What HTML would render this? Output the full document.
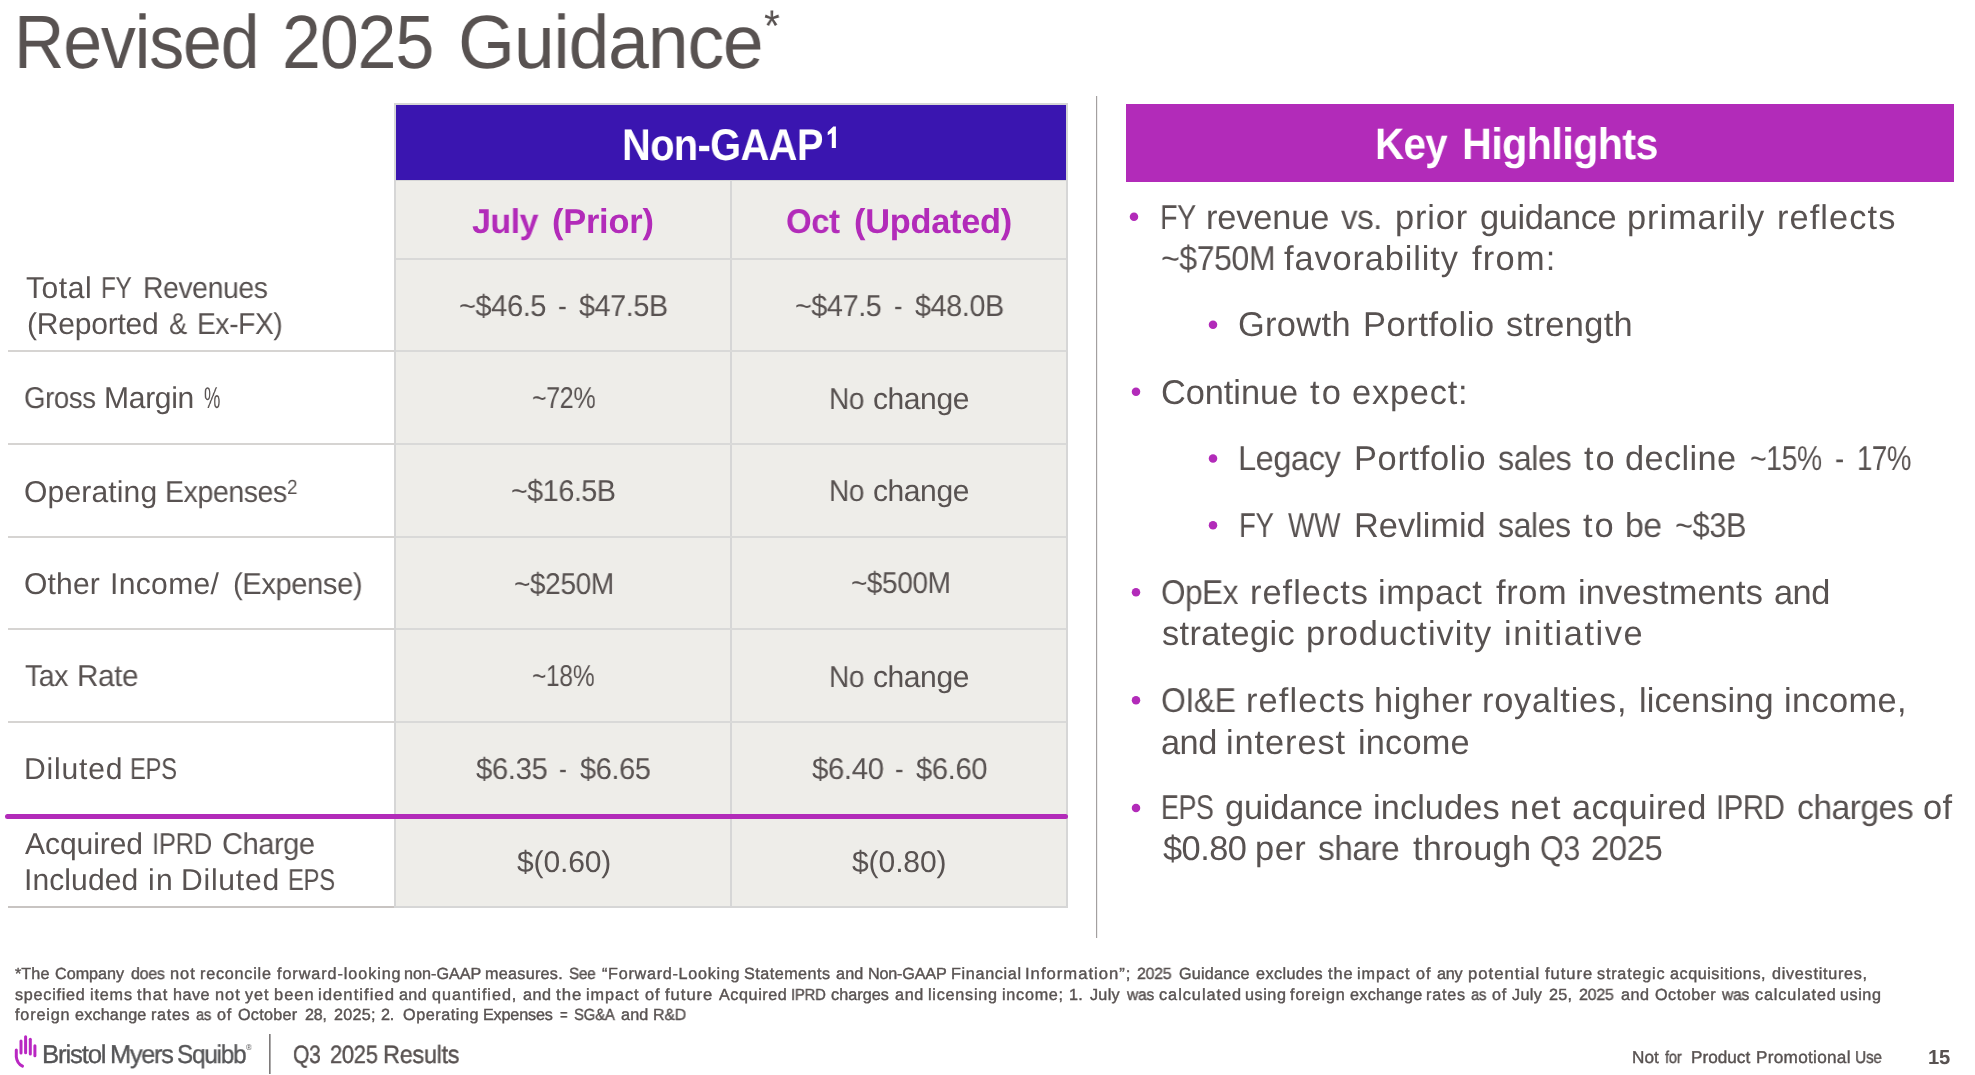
<!DOCTYPE html>
<html>
<head>
<meta charset="utf-8">
<title>Revised 2025 Guidance</title>
<style>
html,body{margin:0;padding:0;background:#fff;}
body{width:1975px;height:1075px;position:relative;overflow:hidden;font-family:"Liberation Sans",sans-serif;}
.t{position:absolute;white-space:nowrap;line-height:1;transform-origin:0 0;will-change:transform;text-rendering:geometricPrecision;}
.r{position:absolute;}
.stk2{-webkit-text-stroke:0.4px currentColor;}
.stk3{-webkit-text-stroke:0.35px currentColor;}
.hl{position:absolute;height:2px;background:#d9d9d8;}
.ll{position:absolute;height:2px;background:#d6d4d2;left:8px;width:386px;}
.dot{position:absolute;width:8.4px;height:8.4px;border-radius:50%;background:#b22bb9;}
</style>
</head>
<body>
<!-- table frame -->
<div class="r" style="left:394px;top:103px;width:674px;height:805px;background:#d6d6d6;"></div>
<div class="r" style="left:396px;top:105px;width:670px;height:801px;background:#eeede9;"></div>
<div class="r" style="left:396px;top:105px;width:670px;height:75px;background:#3a15b0;"></div>
<div class="r" style="left:396px;top:180px;width:670px;height:1px;background:#d6d6d6;"></div>
<!-- column divider -->
<div class="r" style="left:730px;top:181px;width:2px;height:725px;background:#d6d6d6;"></div>
<!-- row separators in table -->
<div class="hl" style="left:396px;width:670px;top:258px;"></div>
<div class="hl" style="left:396px;width:670px;top:350px;"></div>
<div class="hl" style="left:396px;width:670px;top:443px;"></div>
<div class="hl" style="left:396px;width:670px;top:536px;"></div>
<div class="hl" style="left:396px;width:670px;top:628px;"></div>
<div class="hl" style="left:396px;width:670px;top:721px;"></div>
<!-- left column separators -->
<div class="ll" style="top:350px;"></div>
<div class="ll" style="top:443px;"></div>
<div class="ll" style="top:536px;"></div>
<div class="ll" style="top:628px;"></div>
<div class="ll" style="top:721px;"></div>
<div class="ll" style="top:906px;height:1.6px;background:#c8c4c2;"></div>
<!-- purple rule -->
<div class="r" style="left:5px;top:814px;width:1063px;height:5px;border-radius:2.5px;background:#b22bb9;"></div>
<!-- vertical page divider -->
<div class="r" style="left:1096px;top:96px;width:1px;height:842px;background:#a3a0a0;"></div><div class="r" style="left:1097px;top:96px;width:1px;height:842px;background:#efeeee;"></div>
<svg class="r" style="left:820px;top:120px;" width="24" height="34" viewBox="820 120 24 34"><polygon fill="#fff" points="831.8,148 835.9,148 835.9,126.6 833.3,126.6 827.7,131.9 827.7,135.2 831.8,133.0"/></svg>
<!-- key highlights box -->
<div class="r" style="left:1126px;top:104px;width:828px;height:78px;background:#b22bb9;"></div>
<!-- bullets -->
<svg class="r" style="left:1120px;top:200px;" width="110" height="625" viewBox="1120 200 110 625"><g fill="#b22bb9"><circle cx="1134" cy="216.7" r="4.25"/><circle cx="1213" cy="324.65" r="4.25"/><circle cx="1136" cy="391.65" r="4.25"/><circle cx="1213" cy="458.4" r="4.25"/><circle cx="1213" cy="525.3" r="4.25"/><circle cx="1136" cy="592.2" r="4.25"/><circle cx="1136" cy="700.3" r="4.25"/><circle cx="1136" cy="808.1" r="4.25"/></g></svg>
<!-- footer -->
<svg class="r" style="left:0;top:1025px;" width="60" height="50" viewBox="0 1025 60 50">
  <g fill="none" stroke="#b927c2" stroke-width="3" stroke-linecap="round">
    <path d="M16.3 1050.1 L16.3 1056.8 Q17 1063.5 22.5 1066.1"/>
    <path d="M21 1041 L21 1053.1"/>
    <path d="M25.6 1036.7 L25.6 1052.7"/>
    <path d="M30.3 1039.3 L30.3 1054"/>
    <path d="M34.9 1045.8 L34.9 1055.7"/>
  </g>
</svg>
<div class="r" style="left:269px;top:1034px;width:1px;height:39.5px;background:#7e7a7a;"></div><div class="r" style="left:270px;top:1034px;width:1px;height:39.5px;background:#acaaaa;"></div>
<div class="t" style="left:14.47px;top:6.00px;font-size:75.59px;color:#585251;letter-spacing:-1.134px;transform:scaleX(0.9219);">Revised</div>
<div class="t" style="left:282.33px;top:6.00px;font-size:75.59px;color:#585251;letter-spacing:-1.134px;transform:scaleX(0.9238);">2025</div>
<div class="t" style="left:457.89px;top:6.00px;font-size:75.59px;color:#585251;letter-spacing:-1.134px;transform:scaleX(0.9685);">Guidance</div>
<div class="t" style="left:621.81px;top:124.00px;font-size:44.38px;color:#fff;font-weight:700;letter-spacing:-0.666px;transform:scaleX(0.8969);">Non-GAAP</div>
<div class="t" style="left:472.20px;top:205.00px;font-size:34.36px;color:#B22BB9;font-weight:700;letter-spacing:-0.515px;transform:scaleX(0.9911);">July</div>
<div class="t" style="left:551.50px;top:205.00px;font-size:34.36px;color:#B22BB9;font-weight:700;letter-spacing:-0.206px;">(Prior)</div>
<div class="t" style="left:786.04px;top:205.00px;font-size:34.36px;color:#B22BB9;font-weight:700;letter-spacing:-0.515px;transform:scaleX(0.9605);">Oct</div>
<div class="t" style="left:853.50px;top:205.00px;font-size:34.36px;color:#B22BB9;font-weight:700;letter-spacing:-0.272px;">(Updated)</div>
<div class="t" style="left:26.30px;top:274.00px;font-size:30.07px;color:#585251;letter-spacing:0.520px;">Total</div>
<div class="t" style="left:101.38px;top:274.00px;font-size:30.07px;color:#585251;letter-spacing:-0.451px;transform:scaleX(0.8075);">FY</div>
<div class="t" style="left:142.91px;top:274.00px;font-size:30.07px;color:#585251;letter-spacing:-0.451px;transform:scaleX(0.9444);">Revenues</div>
<div class="t" style="left:27.00px;top:310.00px;font-size:30.07px;color:#585251;letter-spacing:-0.245px;">(Reported</div>
<div class="t" style="left:168.59px;top:310.00px;font-size:30.07px;color:#585251;transform:scaleX(0.9105);">&amp;</div>
<div class="t" style="left:197.42px;top:310.00px;font-size:30.07px;color:#585251;letter-spacing:-0.451px;transform:scaleX(0.9393);">Ex-FX)</div>
<div class="t" style="left:24.08px;top:384.00px;font-size:30.07px;color:#585251;letter-spacing:-0.451px;transform:scaleX(0.9196);">Gross</div>
<div class="t" style="left:104.10px;top:384.00px;font-size:30.07px;color:#585251;letter-spacing:-0.314px;">Margin</div>
<div class="t" style="left:204.29px;top:384.00px;font-size:30.07px;color:#585251;transform:scaleX(0.6120);">%</div>
<div class="t" style="left:24.00px;top:478.00px;font-size:30.07px;color:#585251;letter-spacing:0.137px;">Operating</div>
<div class="t" style="left:165.30px;top:478.00px;font-size:30.07px;color:#585251;letter-spacing:-0.451px;transform:scaleX(0.9489);">Expenses</div>
<div class="t" style="left:24.00px;top:570.00px;font-size:30.07px;color:#585251;letter-spacing:0.156px;">Other</div>
<div class="t" style="left:109.60px;top:570.00px;font-size:30.07px;color:#585251;letter-spacing:0.336px;">Income/</div>
<div class="t" style="left:232.73px;top:570.00px;font-size:30.07px;color:#585251;letter-spacing:-0.451px;transform:scaleX(0.9711);">(Expense)</div>
<div class="t" style="left:24.50px;top:662.00px;font-size:30.07px;color:#585251;letter-spacing:-0.451px;transform:scaleX(0.9466);">Tax</div>
<div class="t" style="left:77.22px;top:662.00px;font-size:30.07px;color:#585251;letter-spacing:-0.451px;transform:scaleX(0.9894);">Rate</div>
<div class="t" style="left:23.60px;top:755.00px;font-size:30.07px;color:#585251;letter-spacing:0.823px;">Diluted</div>
<div class="t" style="left:130.11px;top:755.00px;font-size:30.07px;color:#585251;letter-spacing:-0.451px;transform:scaleX(0.7936);">EPS</div>
<div class="t" style="left:24.50px;top:830.00px;font-size:30.07px;color:#585251;letter-spacing:-0.090px;">Acquired</div>
<div class="t" style="left:152.19px;top:830.00px;font-size:30.07px;color:#585251;letter-spacing:-0.451px;transform:scaleX(0.8560);">IPRD</div>
<div class="t" style="left:221.83px;top:830.00px;font-size:30.07px;color:#585251;letter-spacing:-0.451px;transform:scaleX(0.9670);">Charge</div>
<div class="t" style="left:24.30px;top:866.00px;font-size:30.07px;color:#585251;letter-spacing:0.080px;">Included</div>
<div class="t" style="left:147.90px;top:866.00px;font-size:30.07px;color:#585251;letter-spacing:1.321px;">in</div>
<div class="t" style="left:180.70px;top:866.00px;font-size:30.07px;color:#585251;letter-spacing:0.757px;">Diluted</div>
<div class="t" style="left:287.71px;top:866.00px;font-size:30.07px;color:#585251;letter-spacing:-0.451px;transform:scaleX(0.7954);">EPS</div>
<div class="t" style="left:458.93px;top:292.00px;font-size:30.07px;color:#585251;letter-spacing:-0.451px;transform:scaleX(0.9661);">~$46.5</div>
<div class="t" style="left:558.02px;top:292.00px;font-size:30.07px;color:#585251;transform:scaleX(0.8750);">-</div>
<div class="t" style="left:578.70px;top:292.00px;font-size:30.07px;color:#585251;letter-spacing:-0.451px;transform:scaleX(0.9579);">$47.5B</div>
<div class="t" style="left:531.57px;top:384.00px;font-size:30.07px;color:#585251;letter-spacing:-0.451px;transform:scaleX(0.8333);">~72%</div>
<div class="t" style="left:511.05px;top:477.00px;font-size:30.07px;color:#585251;letter-spacing:-0.451px;transform:scaleX(0.9530);">~$16.5B</div>
<div class="t" style="left:514.07px;top:570.00px;font-size:30.07px;color:#585251;letter-spacing:-0.451px;transform:scaleX(0.9340);">~$250M</div>
<div class="t" style="left:532.38px;top:662.00px;font-size:30.07px;color:#585251;letter-spacing:-0.451px;transform:scaleX(0.8199);">~18%</div>
<div class="t" style="left:475.60px;top:755.00px;font-size:30.07px;color:#585251;letter-spacing:-0.451px;transform:scaleX(0.9779);">$6.35</div>
<div class="t" style="left:558.71px;top:755.00px;font-size:30.07px;color:#585251;transform:scaleX(0.7875);">-</div>
<div class="t" style="left:579.80px;top:755.00px;font-size:30.07px;color:#585251;letter-spacing:-0.451px;transform:scaleX(0.9655);">$6.65</div>
<div class="t" style="left:516.50px;top:848.00px;font-size:30.07px;color:#585251;letter-spacing:-0.157px;">$(0.60)</div>
<div class="t" style="left:795.44px;top:292.00px;font-size:30.07px;color:#585251;letter-spacing:-0.451px;transform:scaleX(0.9582);">~$47.5</div>
<div class="t" style="left:893.96px;top:292.00px;font-size:30.07px;color:#585251;transform:scaleX(0.8375);">-</div>
<div class="t" style="left:915.10px;top:292.00px;font-size:30.07px;color:#585251;letter-spacing:-0.451px;transform:scaleX(0.9590);">$48.0B</div>
<div class="t" style="left:829.43px;top:385.00px;font-size:30.07px;color:#585251;letter-spacing:-0.451px;transform:scaleX(0.9331);">No</div>
<div class="t" style="left:873.10px;top:385.00px;font-size:30.07px;color:#585251;letter-spacing:-0.451px;transform:scaleX(0.9952);">change</div>
<div class="t" style="left:829.43px;top:477.00px;font-size:30.07px;color:#585251;letter-spacing:-0.451px;transform:scaleX(0.9331);">No</div>
<div class="t" style="left:873.10px;top:477.00px;font-size:30.07px;color:#585251;letter-spacing:-0.451px;transform:scaleX(0.9952);">change</div>
<div class="t" style="left:829.43px;top:663.00px;font-size:30.07px;color:#585251;letter-spacing:-0.451px;transform:scaleX(0.9331);">No</div>
<div class="t" style="left:873.10px;top:663.00px;font-size:30.07px;color:#585251;letter-spacing:-0.451px;transform:scaleX(0.9952);">change</div>
<div class="t" style="left:851.07px;top:569.00px;font-size:30.07px;color:#585251;letter-spacing:-0.451px;transform:scaleX(0.9311);">~$500M</div>
<div class="t" style="left:812.20px;top:755.00px;font-size:30.07px;color:#585251;letter-spacing:-0.451px;transform:scaleX(0.9807);">$6.40</div>
<div class="t" style="left:895.15px;top:755.00px;font-size:30.07px;color:#585251;transform:scaleX(0.8500);">-</div>
<div class="t" style="left:916.00px;top:755.00px;font-size:30.07px;color:#585251;letter-spacing:-0.451px;transform:scaleX(0.9738);">$6.60</div>
<div class="t" style="left:852.40px;top:848.00px;font-size:30.07px;color:#585251;letter-spacing:-0.107px;">$(0.80)</div>
<div class="t" style="left:1375.17px;top:123.00px;font-size:44.1px;color:#fff;font-weight:700;letter-spacing:-0.661px;transform:scaleX(0.9136);">Key</div>
<div class="t" style="left:1461.82px;top:123.00px;font-size:44.1px;color:#fff;font-weight:700;letter-spacing:-0.661px;transform:scaleX(0.9376);">Highlights</div>
<div class="t" style="left:1159.53px;top:201.00px;font-size:34.36px;color:#585251;letter-spacing:-0.515px;transform:scaleX(0.8343);">FY</div>
<div class="t" style="left:1205.70px;top:201.00px;font-size:34.36px;color:#585251;letter-spacing:-0.126px;">revenue</div>
<div class="t" style="left:1340.50px;top:201.00px;font-size:34.36px;color:#585251;letter-spacing:-0.515px;transform:scaleX(0.9646);">vs.</div>
<div class="t" style="left:1394.70px;top:201.00px;font-size:34.36px;color:#585251;letter-spacing:0.877px;">prior</div>
<div class="t" style="left:1479.90px;top:201.00px;font-size:34.36px;color:#585251;letter-spacing:-0.408px;">guidance</div>
<div class="t" style="left:1626.90px;top:201.00px;font-size:34.36px;color:#585251;letter-spacing:0.934px;">primarily</div>
<div class="t" style="left:1776.70px;top:201.00px;font-size:34.36px;color:#585251;letter-spacing:1.091px;">reflects</div>
<div class="t" style="left:1160.76px;top:242.00px;font-size:34.36px;color:#585251;letter-spacing:-0.515px;transform:scaleX(0.9350);">~$750M</div>
<div class="t" style="left:1284.00px;top:242.00px;font-size:34.36px;color:#585251;letter-spacing:0.886px;">favorability</div>
<div class="t" style="left:1472.20px;top:242.00px;font-size:34.36px;color:#585251;letter-spacing:1.270px;">from:</div>
<div class="t" style="left:1238.30px;top:308.00px;font-size:34.36px;color:#585251;letter-spacing:0.353px;">Growth</div>
<div class="t" style="left:1362.50px;top:308.00px;font-size:34.36px;color:#585251;letter-spacing:0.645px;">Portfolio</div>
<div class="t" style="left:1506.10px;top:308.00px;font-size:34.36px;color:#585251;letter-spacing:0.366px;">strength</div>
<div class="t" style="left:1160.70px;top:376.00px;font-size:34.36px;color:#585251;letter-spacing:-0.061px;">Continue</div>
<div class="t" style="left:1310.40px;top:376.00px;font-size:34.36px;color:#585251;letter-spacing:2.062px;transform:scaleX(1.0031);">to</div>
<div class="t" style="left:1352.00px;top:376.00px;font-size:34.36px;color:#585251;letter-spacing:0.795px;">expect:</div>
<div class="t" style="left:1238.10px;top:442.00px;font-size:34.36px;color:#585251;letter-spacing:-0.515px;transform:scaleX(0.9492);">Legacy</div>
<div class="t" style="left:1353.80px;top:442.00px;font-size:34.36px;color:#585251;letter-spacing:0.695px;">Portfolio</div>
<div class="t" style="left:1498.00px;top:442.00px;font-size:34.36px;color:#585251;letter-spacing:-0.515px;transform:scaleX(0.9419);">sales</div>
<div class="t" style="left:1583.50px;top:442.00px;font-size:34.36px;color:#585251;letter-spacing:2.054px;">to</div>
<div class="t" style="left:1625.40px;top:442.00px;font-size:34.36px;color:#585251;letter-spacing:0.371px;">decline</div>
<div class="t" style="left:1749.57px;top:442.00px;font-size:34.36px;color:#585251;letter-spacing:-0.515px;transform:scaleX(0.8269);">~15%</div>
<div class="t" style="left:1834.71px;top:442.00px;font-size:34.36px;color:#585251;transform:scaleX(0.7889);">-</div>
<div class="t" style="left:1856.90px;top:442.00px;font-size:34.36px;color:#585251;letter-spacing:-0.515px;transform:scaleX(0.8023);">17%</div>
<div class="t" style="left:1238.59px;top:509.00px;font-size:34.36px;color:#585251;letter-spacing:-0.515px;transform:scaleX(0.8029);">FY</div>
<div class="t" style="left:1287.70px;top:509.00px;font-size:34.36px;color:#585251;letter-spacing:-0.515px;transform:scaleX(0.8149);">WW</div>
<div class="t" style="left:1354.10px;top:509.00px;font-size:34.36px;color:#585251;letter-spacing:-0.018px;">Revlimid</div>
<div class="t" style="left:1498.40px;top:509.00px;font-size:34.36px;color:#585251;letter-spacing:-0.515px;transform:scaleX(0.9341);">sales</div>
<div class="t" style="left:1582.90px;top:509.00px;font-size:34.36px;color:#585251;letter-spacing:1.954px;">to</div>
<div class="t" style="left:1624.73px;top:509.00px;font-size:34.36px;color:#585251;letter-spacing:-0.515px;transform:scaleX(0.9857);">be</div>
<div class="t" style="left:1674.60px;top:509.00px;font-size:34.36px;color:#585251;letter-spacing:-0.515px;transform:scaleX(0.8979);">~$3B</div>
<div class="t" style="left:1161.08px;top:576.00px;font-size:34.36px;color:#585251;letter-spacing:-0.515px;transform:scaleX(0.9170);">OpEx</div>
<div class="t" style="left:1249.90px;top:576.00px;font-size:34.36px;color:#585251;letter-spacing:1.019px;">reflects</div>
<div class="t" style="left:1377.50px;top:576.00px;font-size:34.36px;color:#585251;letter-spacing:0.509px;">impact</div>
<div class="t" style="left:1496.40px;top:576.00px;font-size:34.36px;color:#585251;letter-spacing:0.601px;">from</div>
<div class="t" style="left:1577.90px;top:576.00px;font-size:34.36px;color:#585251;letter-spacing:0.156px;">investments</div>
<div class="t" style="left:1774.31px;top:576.00px;font-size:34.36px;color:#585251;letter-spacing:-0.515px;transform:scaleX(0.9946);">and</div>
<div class="t" style="left:1161.60px;top:617.00px;font-size:34.36px;color:#585251;letter-spacing:0.353px;">strategic</div>
<div class="t" style="left:1306.00px;top:617.00px;font-size:34.36px;color:#585251;letter-spacing:1.046px;">productivity</div>
<div class="t" style="left:1504.30px;top:617.00px;font-size:34.36px;color:#585251;letter-spacing:1.620px;">initiative</div>
<div class="t" style="left:1161.27px;top:684.00px;font-size:34.36px;color:#585251;letter-spacing:-0.515px;transform:scaleX(0.9295);">OI&amp;E</div>
<div class="t" style="left:1246.30px;top:684.00px;font-size:34.36px;color:#585251;letter-spacing:1.119px;">reflects</div>
<div class="t" style="left:1374.10px;top:684.00px;font-size:34.36px;color:#585251;letter-spacing:0.546px;">higher</div>
<div class="t" style="left:1481.70px;top:684.00px;font-size:34.36px;color:#585251;letter-spacing:0.773px;">royalties,</div>
<div class="t" style="left:1639.00px;top:684.00px;font-size:34.36px;color:#585251;letter-spacing:0.127px;">licensing</div>
<div class="t" style="left:1784.00px;top:684.00px;font-size:34.36px;color:#585251;letter-spacing:0.373px;">income,</div>
<div class="t" style="left:1161.00px;top:726.00px;font-size:34.36px;color:#585251;letter-spacing:-0.509px;">and</div>
<div class="t" style="left:1226.20px;top:726.00px;font-size:34.36px;color:#585251;letter-spacing:0.925px;">interest</div>
<div class="t" style="left:1357.70px;top:726.00px;font-size:34.36px;color:#585251;letter-spacing:0.189px;">income</div>
<div class="t" style="left:1161.24px;top:791.00px;font-size:34.36px;color:#585251;letter-spacing:-0.515px;transform:scaleX(0.7808);">EPS</div>
<div class="t" style="left:1224.50px;top:791.00px;font-size:34.36px;color:#585251;letter-spacing:-0.180px;">guidance</div>
<div class="t" style="left:1373.40px;top:791.00px;font-size:34.36px;color:#585251;letter-spacing:0.074px;">includes</div>
<div class="t" style="left:1509.50px;top:791.00px;font-size:34.36px;color:#585251;letter-spacing:1.391px;">net</div>
<div class="t" style="left:1572.10px;top:791.00px;font-size:34.36px;color:#585251;letter-spacing:0.373px;">acquired</div>
<div class="t" style="left:1715.54px;top:791.00px;font-size:34.36px;color:#585251;letter-spacing:-0.515px;transform:scaleX(0.8549);">IPRD</div>
<div class="t" style="left:1797.02px;top:791.00px;font-size:34.36px;color:#585251;letter-spacing:-0.515px;transform:scaleX(0.9789);">charges</div>
<div class="t" style="left:1923.00px;top:791.00px;font-size:34.36px;color:#585251;letter-spacing:0.291px;">of</div>
<div class="t" style="left:1162.90px;top:832.00px;font-size:34.36px;color:#585251;letter-spacing:-0.515px;transform:scaleX(0.9950);">$0.80</div>
<div class="t" style="left:1255.40px;top:832.00px;font-size:34.36px;color:#585251;letter-spacing:0.541px;">per</div>
<div class="t" style="left:1317.70px;top:832.00px;font-size:34.36px;color:#585251;letter-spacing:-0.515px;transform:scaleX(0.9737);">share</div>
<div class="t" style="left:1412.50px;top:832.00px;font-size:34.36px;color:#585251;letter-spacing:0.246px;">through</div>
<div class="t" style="left:1539.61px;top:832.00px;font-size:34.36px;color:#585251;letter-spacing:-0.515px;transform:scaleX(0.8887);">Q3</div>
<div class="t" style="left:1591.34px;top:832.00px;font-size:34.36px;color:#585251;letter-spacing:-0.515px;transform:scaleX(0.9590);">2025</div>
<div class="t stk2" style="left:15.10px;top:966.00px;font-size:16.18px;color:#585251;letter-spacing:0.078px;">*The</div>
<div class="t stk2" style="left:55.00px;top:966.00px;font-size:16.18px;color:#585251;letter-spacing:-0.021px;">Company</div>
<div class="t stk2" style="left:131.10px;top:966.00px;font-size:16.18px;color:#585251;letter-spacing:-0.243px;transform:scaleX(0.9867);">does</div>
<div class="t stk2" style="left:169.98px;top:966.00px;font-size:16.18px;color:#585251;letter-spacing:0.971px;transform:scaleX(1.0155);">not</div>
<div class="t stk2" style="left:200.40px;top:966.00px;font-size:16.18px;color:#585251;letter-spacing:0.772px;">reconcile</div>
<div class="t stk2" style="left:277.30px;top:966.00px;font-size:16.18px;color:#585251;letter-spacing:0.931px;">forward-looking</div>
<div class="t stk2" style="left:403.50px;top:966.00px;font-size:16.18px;color:#585251;letter-spacing:0.011px;">non-GAAP</div>
<div class="t stk2" style="left:484.80px;top:966.00px;font-size:16.18px;color:#585251;letter-spacing:0.274px;">measures.</div>
<div class="t stk2" style="left:569.00px;top:966.00px;font-size:16.18px;color:#585251;letter-spacing:-0.243px;transform:scaleX(0.9436);">See</div>
<div class="t stk2" style="left:602.00px;top:966.00px;font-size:16.18px;color:#585251;letter-spacing:0.724px;">“Forward-Looking</div>
<div class="t stk2" style="left:743.80px;top:966.00px;font-size:16.18px;color:#585251;letter-spacing:0.476px;">Statements</div>
<div class="t stk2" style="left:836.00px;top:966.00px;font-size:16.18px;color:#585251;letter-spacing:0.156px;">and</div>
<div class="t stk2" style="left:867.90px;top:966.00px;font-size:16.18px;color:#585251;letter-spacing:-0.186px;">Non-GAAP</div>
<div class="t stk2" style="left:950.60px;top:966.00px;font-size:16.18px;color:#585251;letter-spacing:0.672px;">Financial</div>
<div class="t stk2" style="left:1024.97px;top:966.00px;font-size:16.18px;color:#585251;letter-spacing:0.971px;transform:scaleX(1.0294);">Information”;</div>
<div class="t stk2" style="left:1136.80px;top:966.00px;font-size:16.18px;color:#585251;letter-spacing:-0.243px;transform:scaleX(0.9814);">2025</div>
<div class="t stk2" style="left:1178.50px;top:966.00px;font-size:16.18px;color:#585251;letter-spacing:0.195px;">Guidance</div>
<div class="t stk2" style="left:1255.50px;top:966.00px;font-size:16.18px;color:#585251;letter-spacing:0.408px;">excludes</div>
<div class="t stk2" style="left:1327.80px;top:966.00px;font-size:16.18px;color:#585251;letter-spacing:0.971px;transform:scaleX(1.0111);">the</div>
<div class="t stk2" style="left:1357.20px;top:966.00px;font-size:16.18px;color:#585251;letter-spacing:0.971px;transform:scaleX(1.0021);">impact</div>
<div class="t stk2" style="left:1416.30px;top:966.00px;font-size:16.18px;color:#585251;letter-spacing:0.906px;">of</div>
<div class="t stk2" style="left:1436.90px;top:966.00px;font-size:16.18px;color:#585251;letter-spacing:-0.194px;">any</div>
<div class="t stk2" style="left:1468.37px;top:966.00px;font-size:16.18px;color:#585251;letter-spacing:0.971px;transform:scaleX(1.0339);">potential</div>
<div class="t stk2" style="left:1544.60px;top:966.00px;font-size:16.18px;color:#585251;letter-spacing:0.971px;transform:scaleX(1.0213);">future</div>
<div class="t stk2" style="left:1597.10px;top:966.00px;font-size:16.18px;color:#585251;letter-spacing:0.796px;">strategic</div>
<div class="t stk2" style="left:1670.10px;top:966.00px;font-size:16.18px;color:#585251;letter-spacing:0.542px;">acquisitions,</div>
<div class="t stk2" style="left:1771.70px;top:966.00px;font-size:16.18px;color:#585251;letter-spacing:0.734px;">divestitures,</div>
<div class="t stk2" style="left:15.10px;top:987.00px;font-size:16.18px;color:#585251;letter-spacing:0.746px;">specified</div>
<div class="t stk2" style="left:89.60px;top:987.00px;font-size:16.18px;color:#585251;letter-spacing:0.837px;">items</div>
<div class="t stk2" style="left:137.20px;top:987.00px;font-size:16.18px;color:#585251;letter-spacing:0.971px;transform:scaleX(1.0134);">that</div>
<div class="t stk2" style="left:173.00px;top:987.00px;font-size:16.18px;color:#585251;letter-spacing:0.475px;">have</div>
<div class="t stk2" style="left:214.58px;top:987.00px;font-size:16.18px;color:#585251;letter-spacing:0.971px;transform:scaleX(1.0155);">not</div>
<div class="t stk2" style="left:245.30px;top:987.00px;font-size:16.18px;color:#585251;letter-spacing:0.910px;">yet</div>
<div class="t stk2" style="left:274.28px;top:987.00px;font-size:16.18px;color:#585251;letter-spacing:0.971px;transform:scaleX(1.0164);">been</div>
<div class="t stk2" style="left:317.87px;top:987.00px;font-size:16.18px;color:#585251;letter-spacing:0.971px;transform:scaleX(1.0339);">identified</div>
<div class="t stk2" style="left:398.80px;top:987.00px;font-size:16.18px;color:#585251;letter-spacing:0.356px;">and</div>
<div class="t stk2" style="left:431.80px;top:987.00px;font-size:16.18px;color:#585251;letter-spacing:0.971px;">quantified,</div>
<div class="t stk2" style="left:522.50px;top:987.00px;font-size:16.18px;color:#585251;letter-spacing:0.456px;">and</div>
<div class="t stk2" style="left:555.70px;top:987.00px;font-size:16.18px;color:#585251;letter-spacing:0.971px;transform:scaleX(1.0357);">the</div>
<div class="t stk2" style="left:585.60px;top:987.00px;font-size:16.18px;color:#585251;letter-spacing:0.971px;transform:scaleX(1.0021);">impact</div>
<div class="t stk2" style="left:644.60px;top:987.00px;font-size:16.18px;color:#585251;letter-spacing:0.971px;transform:scaleX(1.0157);">of</div>
<div class="t stk2" style="left:665.00px;top:987.00px;font-size:16.18px;color:#585251;letter-spacing:0.971px;transform:scaleX(1.0235);">future</div>
<div class="t stk2" style="left:718.60px;top:987.00px;font-size:16.18px;color:#585251;letter-spacing:0.567px;">Acquired</div>
<div class="t stk2" style="left:791.18px;top:987.00px;font-size:16.18px;color:#585251;letter-spacing:-0.243px;transform:scaleX(0.9164);">IPRD</div>
<div class="t stk2" style="left:831.40px;top:987.00px;font-size:16.18px;color:#585251;letter-spacing:0.042px;">charges</div>
<div class="t stk2" style="left:895.20px;top:987.00px;font-size:16.18px;color:#585251;letter-spacing:0.656px;">and</div>
<div class="t stk2" style="left:928.00px;top:987.00px;font-size:16.18px;color:#585251;letter-spacing:0.758px;">licensing</div>
<div class="t stk2" style="left:1001.50px;top:987.00px;font-size:16.18px;color:#585251;letter-spacing:0.745px;">income;</div>
<div class="t stk2" style="left:1069.00px;top:987.00px;font-size:16.18px;color:#585251;letter-spacing:0.206px;">1.</div>
<div class="t stk2" style="left:1089.80px;top:987.00px;font-size:16.18px;color:#585251;letter-spacing:0.276px;">July</div>
<div class="t stk2" style="left:1127.26px;top:987.00px;font-size:16.18px;color:#585251;letter-spacing:-0.243px;transform:scaleX(0.9593);">was</div>
<div class="t stk2" style="left:1159.20px;top:987.00px;font-size:16.18px;color:#585251;letter-spacing:0.971px;transform:scaleX(1.0067);">calculated</div>
<div class="t stk2" style="left:1244.90px;top:987.00px;font-size:16.18px;color:#585251;letter-spacing:0.558px;">using</div>
<div class="t stk2" style="left:1290.20px;top:987.00px;font-size:16.18px;color:#585251;letter-spacing:0.891px;">foreign</div>
<div class="t stk2" style="left:1349.70px;top:987.00px;font-size:16.18px;color:#585251;letter-spacing:0.308px;">exchange</div>
<div class="t stk2" style="left:1426.30px;top:987.00px;font-size:16.18px;color:#585251;letter-spacing:0.758px;">rates</div>
<div class="t stk2" style="left:1470.90px;top:987.00px;font-size:16.18px;color:#585251;letter-spacing:-0.243px;transform:scaleX(0.9134);">as</div>
<div class="t stk2" style="left:1491.60px;top:987.00px;font-size:16.18px;color:#585251;letter-spacing:0.806px;">of</div>
<div class="t stk2" style="left:1512.40px;top:987.00px;font-size:16.18px;color:#585251;letter-spacing:0.376px;">July</div>
<div class="t stk2" style="left:1549.20px;top:987.00px;font-size:16.18px;color:#585251;letter-spacing:0.306px;">25,</div>
<div class="t stk2" style="left:1579.10px;top:987.00px;font-size:16.18px;color:#585251;letter-spacing:-0.243px;transform:scaleX(0.9871);">2025</div>
<div class="t stk2" style="left:1620.90px;top:987.00px;font-size:16.18px;color:#585251;letter-spacing:0.556px;">and</div>
<div class="t stk2" style="left:1654.60px;top:987.00px;font-size:16.18px;color:#585251;letter-spacing:0.510px;">October</div>
<div class="t stk2" style="left:1722.46px;top:987.00px;font-size:16.18px;color:#585251;letter-spacing:-0.243px;transform:scaleX(0.9627);">was</div>
<div class="t stk2" style="left:1755.20px;top:987.00px;font-size:16.18px;color:#585251;letter-spacing:0.886px;">calculated</div>
<div class="t stk2" style="left:1840.00px;top:987.00px;font-size:16.18px;color:#585251;letter-spacing:0.558px;">using</div>
<div class="t stk2" style="left:15.10px;top:1007.00px;font-size:16.18px;color:#585251;letter-spacing:0.858px;">foreign</div>
<div class="t stk2" style="left:74.80px;top:1007.00px;font-size:16.18px;color:#585251;letter-spacing:0.165px;">exchange</div>
<div class="t stk2" style="left:151.20px;top:1007.00px;font-size:16.18px;color:#585251;letter-spacing:0.683px;">rates</div>
<div class="t stk2" style="left:195.90px;top:1007.00px;font-size:16.18px;color:#585251;letter-spacing:-0.243px;transform:scaleX(0.9074);">as</div>
<div class="t stk2" style="left:217.00px;top:1007.00px;font-size:16.18px;color:#585251;letter-spacing:0.806px;">of</div>
<div class="t stk2" style="left:237.80px;top:1007.00px;font-size:16.18px;color:#585251;letter-spacing:0.277px;">October</div>
<div class="t stk2" style="left:304.70px;top:1007.00px;font-size:16.18px;color:#585251;letter-spacing:-0.243px;transform:scaleX(0.9906);">28,</div>
<div class="t stk2" style="left:333.60px;top:1007.00px;font-size:16.18px;color:#585251;letter-spacing:0.256px;">2025;</div>
<div class="t stk2" style="left:381.00px;top:1007.00px;font-size:16.18px;color:#585251;letter-spacing:-0.194px;">2.</div>
<div class="t stk2" style="left:403.40px;top:1007.00px;font-size:16.18px;color:#585251;letter-spacing:0.572px;">Operating</div>
<div class="t stk2" style="left:483.30px;top:1007.00px;font-size:16.18px;color:#585251;letter-spacing:-0.176px;">Expenses</div>
<div class="t stk2" style="left:560.00px;top:1007.00px;font-size:16.18px;color:#585251;transform:scaleX(0.8111);">=</div>
<div class="t stk2" style="left:573.60px;top:1007.00px;font-size:16.18px;color:#585251;letter-spacing:-0.243px;transform:scaleX(0.9229);">SG&amp;A</div>
<div class="t stk2" style="left:620.90px;top:1007.00px;font-size:16.18px;color:#585251;letter-spacing:0.156px;">and</div>
<div class="t stk2" style="left:652.92px;top:1007.00px;font-size:16.18px;color:#585251;letter-spacing:-0.243px;transform:scaleX(0.9850);">R&amp;D</div>
<div class="t stk3" style="left:42.20px;top:1043.00px;font-size:25.77px;color:#545456;letter-spacing:-1.177px;">Bristol</div>
<div class="t stk3" style="left:110.23px;top:1043.00px;font-size:25.77px;color:#545456;letter-spacing:-1.288px;transform:scaleX(0.9839);">Myers</div>
<div class="t stk3" style="left:177.46px;top:1043.00px;font-size:25.77px;color:#545456;letter-spacing:-1.288px;transform:scaleX(0.9426);">Squibb</div>
<div class="t stk2" style="left:293.15px;top:1043.00px;font-size:25.05px;color:#585251;letter-spacing:-0.376px;transform:scaleX(0.8455);">Q3</div>
<div class="t stk2" style="left:330.12px;top:1043.00px;font-size:25.05px;color:#585251;letter-spacing:-0.376px;transform:scaleX(0.8773);">2025</div>
<div class="t stk2" style="left:383.32px;top:1043.00px;font-size:25.05px;color:#585251;letter-spacing:-0.376px;transform:scaleX(0.9411);">Results</div>
<div class="t stk2" style="left:1631.60px;top:1049.00px;font-size:17.18px;color:#585251;letter-spacing:0.024px;">Not</div>
<div class="t stk2" style="left:1665.00px;top:1049.00px;font-size:17.18px;color:#585251;letter-spacing:-0.258px;transform:scaleX(0.8583);">for</div>
<div class="t stk2" style="left:1690.90px;top:1049.00px;font-size:17.18px;color:#585251;letter-spacing:-0.001px;">Product</div>
<div class="t stk2" style="left:1756.00px;top:1049.00px;font-size:17.18px;color:#585251;letter-spacing:0.289px;">Promotional</div>
<div class="t stk2" style="left:1854.60px;top:1049.00px;font-size:17.18px;color:#585251;letter-spacing:-0.258px;transform:scaleX(0.8956);">Use</div>
<div class="t" style="left:1927.80px;top:1048.00px;font-size:20.19px;color:#585251;font-weight:700;letter-spacing:-0.127px;">15</div>
<div class="t" style="left:763.59px;top:5px;font-size:44.44px;color:#585251;transform:scaleX(0.9122);">*</div>
<div class="t" style="left:287.25px;top:478px;font-size:20.43px;color:#585251;transform:scaleX(0.9258);">2</div>
<div class="t" style="left:246.42px;top:1043px;font-size:8.59px;color:#58585a;transform:scaleX(0.8891);">®</div>
</body>
</html>
